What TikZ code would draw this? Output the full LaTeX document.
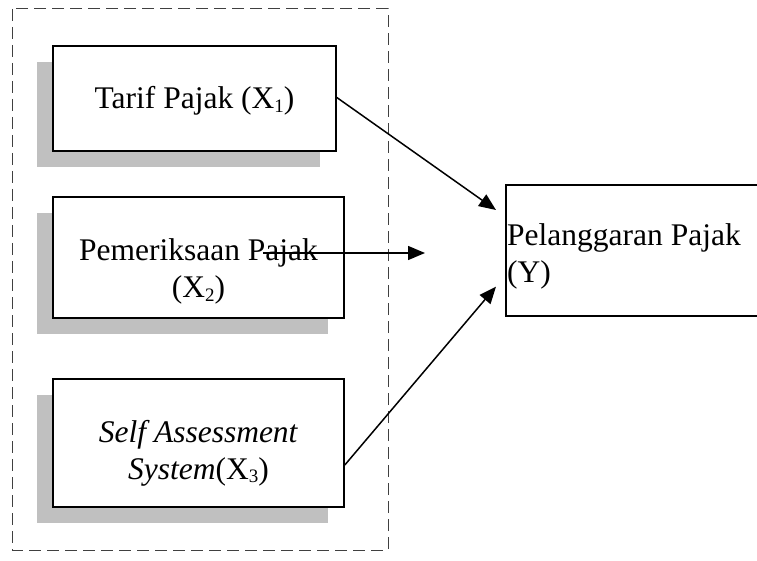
\documentclass[tikz,border=0pt]{standalone}
\usepackage{fontspec}
\setmainfont{Liberation Serif}
\usepackage{tikz}
\usetikzlibrary{arrows.meta,positioning,shadows}
\definecolor{shade}{RGB}{192,192,192}
\newcommand{\xsub}[1]{\raisebox{-0.12em}{\fontsize{19}{19}\selectfont #1}}
\tikzset{
  >={Triangle[length=17pt,width=14pt]},
  var/.style={rectangle, draw, line width=1.6pt, fill=white,
    drop shadow={shadow xshift=-16pt, shadow yshift=-16pt, fill=shade, opacity=1}},
  dep/.style={rectangle, draw, line width=1.6pt, fill=white, anchor=north west},
  txt/.style={align=center, inner sep=0pt, font=\fontsize{31.5}{37}\selectfont},
  grp/.style={draw=black!75, line width=1pt, dash pattern=on 12pt off 6pt},
  tr/.style={->, line width=1.5pt}
}
\begin{document}
\begin{tikzpicture}[x=1pt,y=-1pt]
    \useasboundingbox (0,0) rectangle (757,561);
    \clip (0,0) rectangle (757,561);

    % Group of independent variables
    \draw[grp] (12,9) rectangle (388,550);

    % Variable boxes
    \node[var, minimum width=283pt, minimum height=105pt] (tarif) at (194.5,98.5) {};
    \node[var, minimum width=291pt, minimum height=121pt] (periksa) at (198.5,257.5) {};
    \node[var, minimum width=291pt, minimum height=128pt] (sas) at (198.5,443) {};
    \node[dep, minimum width=300pt, minimum height=131pt] (langgar) at (505,184) {};

    % Texts
    \node[txt] (tarifT) at ([yshift=-2pt]tarif.center) {Tarif Pajak (X\xsub{1})};
    \node[txt] (periksaT) at ([yshift=-14pt]periksa.center) {Pemeriksaan Pajak\\(X\xsub{2})};
    \node[txt] (sasT) at ([yshift=-10pt]sas.center) {\textit{Self Assessment}\\\textit{System}(X\xsub{3})};
    \node[txt, align=left, anchor=base west] (langgarT) at ([xshift=2pt,yshift=-99pt]langgar.north west) {Pelanggaran Pajak\\(Y)};

    % Arrow ends
    \coordinate (e1) at ([xshift=-9pt,yshift=-26pt]langgar.north west);
    \coordinate (e2) at (425,253);
    \coordinate (e3) at ([xshift=-9pt,yshift=30pt]langgar.south west);
    \coordinate (s2) at (263,253);
    \coordinate (s3) at ([yshift=-22pt]sas.east);

    % Arrows
    \draw[tr] ([yshift=1pt]tarif.east) -- (e1);
    \draw[tr] (s2) -- (e2);
    \draw[tr] (s3) -- (e3);

\end{tikzpicture}
\end{document}
